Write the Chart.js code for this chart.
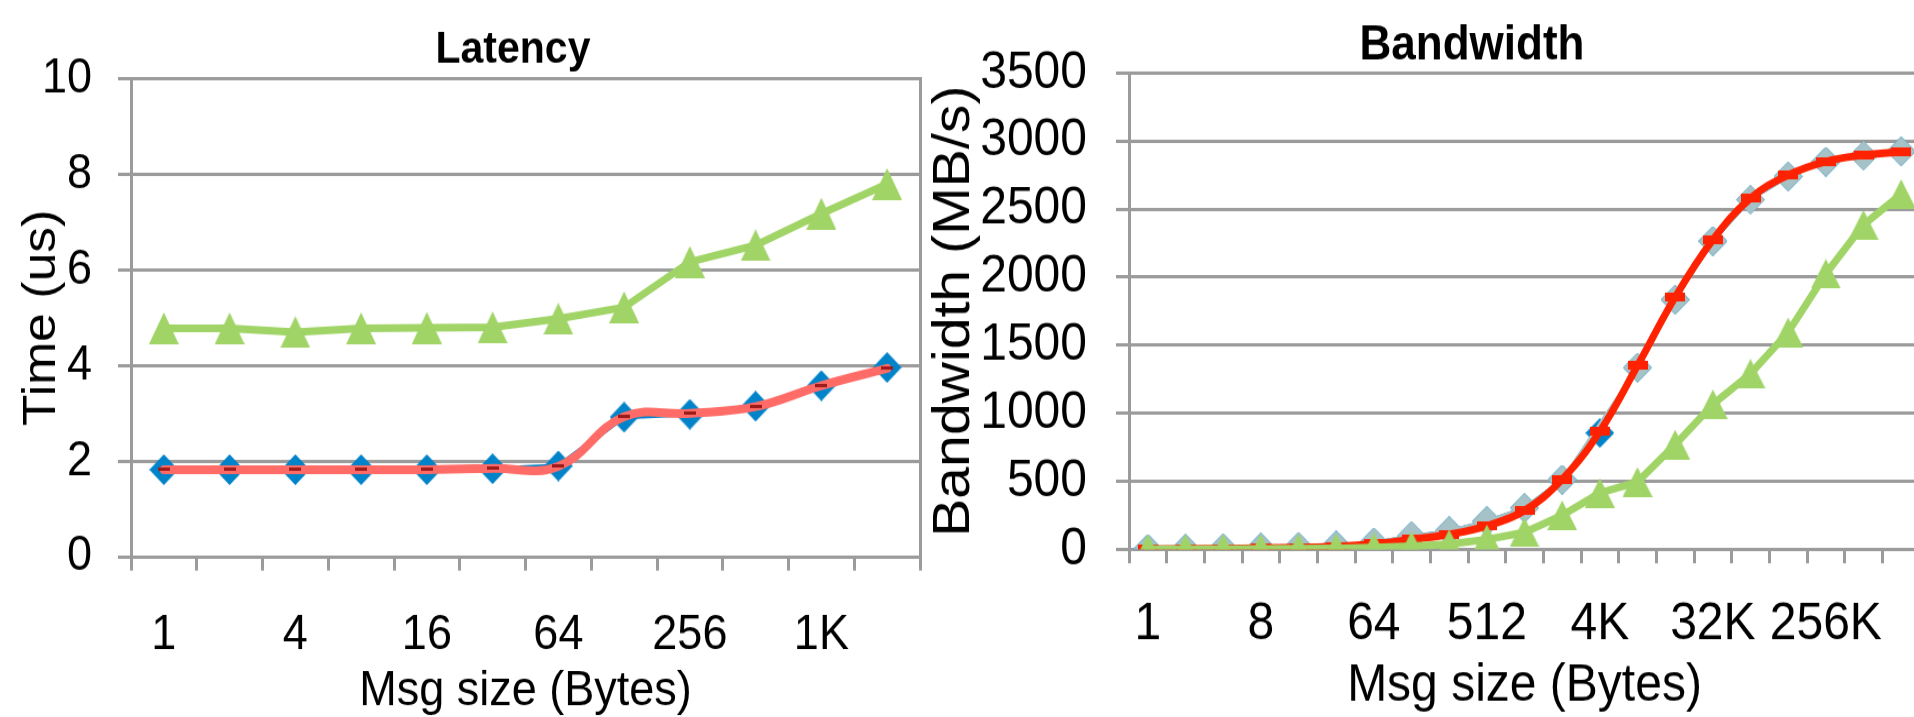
<!DOCTYPE html>
<html>
<head>
<meta charset="utf-8">
<title>Latency and Bandwidth</title>
<script src="https://cdn.jsdelivr.net/npm/chart.js@4.4.1/dist/chart.umd.min.js"></script>
<style>
  html, body { margin: 0; padding: 0; background: #fff; overflow: hidden; }
  body { position: relative; width: 1914px; height: 717px; }
  /* the original figure is drawn slightly taller than wide */
  canvas { position: absolute; top: 0; transform: scaleY(1.1); transform-origin: 0 0; }
  #latency { left: 0; }
  #bandwidth { left: 915px; }
</style>
</head>
<body>
<canvas id="latency" width="1026" height="656"></canvas>
<canvas id="bandwidth" width="1114" height="653"></canvas>
<script>
// Latency chart (us)
const latencyLabels = ['1', '2', '4', '8', '16', '32', '64', '128', '256', '512', '1K', '2K']
const latencyBlue = [1.82, 1.82, 1.82, 1.82, 1.82, 1.84, 1.90, 2.92, 2.98, 3.15, 3.58, 3.96]
const latencyRed = [1.82, 1.82, 1.82, 1.82, 1.82, 1.85, 1.89, 2.93, 3.00, 3.14, 3.58, 3.94]
const latencyGreen = [4.78, 4.78, 4.70, 4.78, 4.79, 4.80, 4.98, 5.22, 6.17, 6.52, 7.18, 7.80]
const latencyTicks = [0, 2, 4, 6, 8, 10]

// Bandwidth chart (MB/s)
const bwLabels = ['1', '2', '4', '8', '16', '32', '64', '128', '256', '512', '1K', '2K',
  '4K', '8K', '16K', '32K', '64K', '128K', '256K', '512K', '1M']
const bwBlue = [3, 5, 8, 12, 18, 28, 50, 98, 134, 208, 305, 512, 855, 1335, 1835, 2265, 2570, 2740, 2848, 2893, 2925]
const bwGray = [3, 5, 8, 12, 18, 28, 50, 98, 134, 208, 305, 512, null, 1335, 1835, 2265, 2570, 2740, 2848, 2893, 2925]
const bwRed = [2, 4, 6, 9, 14, 22, 40, 73, 110, 172, 285, 514, 866, 1350, 1853, 2274, 2580, 2750, 2850, 2897, 2922]
const bwGreen = [1, 1, 2, 3, 5, 8, 13, 24, 37, 73, 125, 250, 415, 495, 770, 1065, 1290, 1595, 2025, 2385, 2610]
const bwTicks = [0, 500, 1000, 1500, 2000, 2500, 3000, 3500]

;(() => {
  'use strict'

  const GRID = '#9b9b9b'
  const BLUE = '#0083c9'
  const GREEN = '#a0d466'
  const SALMON = '#ff6b66'
  const DARKRED = '#9e1b1b'
  const RED = '#ff2200'
  const SLATE = '#a6c2c6'

  Chart.defaults.font.family = "'Liberation Sans', Arial, sans-serif"
  Chart.defaults.color = '#000'

  // excel-like markers, centred on the point
  function marker (shape, w, h, color) {
    const c = document.createElement('canvas')
    c.width = w
    c.height = h
    const g = c.getContext('2d')
    g.fillStyle = color
    g.beginPath()
    if (shape === 'diamond') {
      g.moveTo(w / 2, 0)
      g.lineTo(w, h / 2)
      g.lineTo(w / 2, h)
      g.lineTo(0, h / 2)
    } else if (shape === 'triangle') {
      g.moveTo(w / 2, 0)
      g.lineTo(w, h)
      g.lineTo(0, h)
    } else {
      g.rect(0, 0, w, h)
    }
    g.closePath()
    g.fill()
    return c
  }

  function series (data, color, width, point, order, tension) {
    return {
      data: data,
      borderColor: color,
      backgroundColor: color,
      borderWidth: width,
      borderJoinStyle: 'round',
      borderCapStyle: 'round',
      pointStyle: point,
      pointRadius: 15,
      pointHoverRadius: 15,
      tension: tension || 0,
      spanGaps: true,
      order: order
    }
  }

  function build (cfg) {
    return {
      type: 'line',
      data: { labels: cfg.labels, datasets: cfg.datasets },
      options: {
        responsive: false,
        animation: false,
        devicePixelRatio: 1,
        layout: { padding: 0 },
        plugins: {
          legend: { display: false },
          tooltip: { enabled: false },
          title: {
            display: true,
            text: cfg.title,
            color: '#000',
            font: { size: cfg.titleSize, weight: 'bold', lineHeight: 1.1 },
            padding: cfg.titlePad
          }
        },
        scales: {
          x: {
            offset: true,
            grid: {
              offset: true,
              drawOnChartArea: false,
              tickLength: 12.7,
              tickWidth: 3,
              tickColor: GRID,
              color: GRID,
              lineWidth: 3
            },
            border: { color: GRID, width: 3 },
            ticks: {
              autoSkip: false,
              maxRotation: 0,
              padding: cfg.xPad,
              font: { size: cfg.fontSize },
              callback: (v, i) => (i % cfg.every === 0 ? cfg.labels[i] : '')
            },
            title: {
              display: true,
              text: 'Msg size (Bytes)',
              font: { size: cfg.fontSize },
              padding: { top: 0, bottom: 0 }
            },
            afterFit: (s) => { s.height = cfg.xHeight }
          },
          y: {
            min: 0,
            max: cfg.yTicks[cfg.yTicks.length - 1],
            afterBuildTicks: (s) => { s.ticks = cfg.yTicks.map(v => ({ value: v })) },
            grid: { color: GRID, lineWidth: 3, tickLength: 13 },
            border: { color: GRID, width: 3 },
            ticks: {
              padding: cfg.yPad,
              font: { size: cfg.fontSize },
              callback: (v) => String(v)
            },
            title: {
              display: true,
              text: cfg.yTitle,
              font: { size: cfg.yTitleSize },
              padding: { top: cfg.yTitlePad, bottom: 0 }
            },
            afterFit: (s) => { s.width = cfg.yWidth }
          },
          // spare room on the right so the title sits where it does in the original
          y2: {
            position: 'right',
            display: true,
            ticks: { display: false },
            grid: { display: false },
            border: { display: cfg.rightBorder, color: GRID, width: 3 },
            afterFit: (s) => { s.width = cfg.rightWidth }
          }
        }
      }
    }
  }

  // eslint-disable-next-line no-unused-vars
  const latencyChart = new Chart(document.getElementById('latency'), build({
    labels: latencyLabels,
    title: 'Latency',
    titleSize: 41,
    titlePad: { top: 23.5, bottom: 3.2 },
    fontSize: 45,
    every: 2,
    xPad: 31.5,
    xHeight: 150,
    yTicks: latencyTicks,
    yPad: 26,
    yTitle: 'Time (us)',
    yTitleSize: 47,
    yTitlePad: 14,
    yWidth: 131,
    rightWidth: 106,
    rightBorder: true,
    datasets: [
      series(latencyBlue, BLUE, 4, marker('diamond', 29, 28, BLUE), 3),
      series(latencyRed, SALMON, 8, marker('rect', 12, 3, DARKRED), 2, 0.4),
      series(latencyGreen, GREEN, 7, marker('triangle', 30, 29, GREEN), 1)
    ]
  }))

  // eslint-disable-next-line no-unused-vars
  const bandwidthChart = new Chart(document.getElementById('bandwidth'), build({
    labels: bwLabels,
    title: 'Bandwidth',
    titleSize: 44,
    titlePad: { top: 17.4, bottom: 0.6 },
    fontSize: 48,
    every: 3,
    xPad: 27,
    xHeight: 153.6,
    yTicks: bwTicks,
    yPad: 29,
    yTitle: 'Bandwidth (MB/s)',
    yTitleSize: 52,
    yTitlePad: 8,
    yWidth: 214,
    rightWidth: 109,
    rightBorder: false,
    datasets: [
      series(bwBlue, BLUE, 3, marker('diamond', 29, 27, BLUE), 4),
      series(bwGray, SLATE, 3, marker('diamond', 29, 27, SLATE), 3),
      series(bwRed, RED, 7, marker('rect', 20, 8, RED), 2, 0.4),
      series(bwGreen, GREEN, 7, marker('triangle', 30, 27, GREEN), 1)
    ]
  }))
})()
</script>
</body>
</html>
